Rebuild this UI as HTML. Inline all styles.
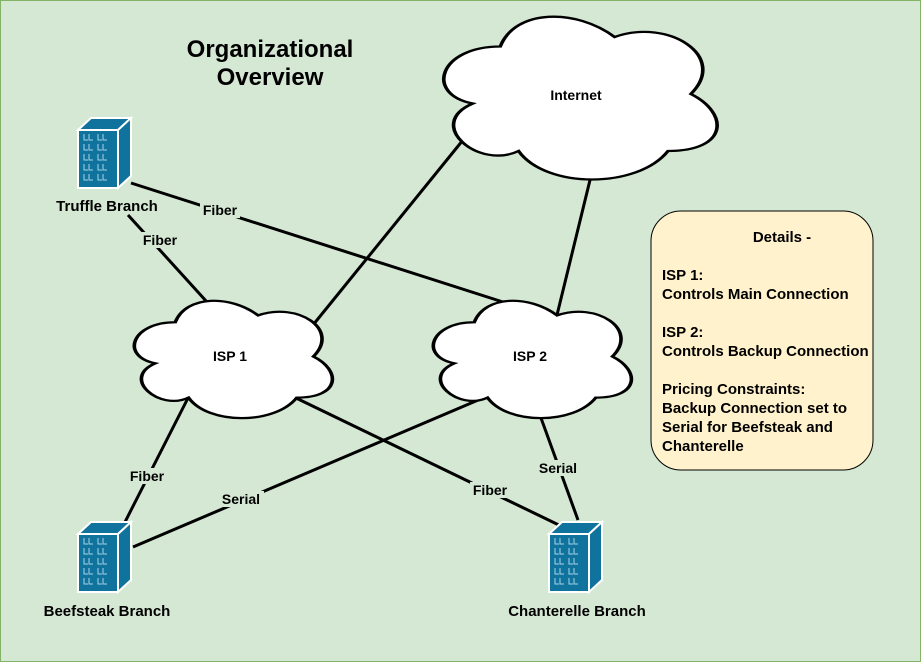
<!DOCTYPE html>
<html><head><style>
body{margin:0;width:921px;height:662px;overflow:hidden;background:#fff}
svg{display:block}
text{font-family:"Liberation Sans",Arial,sans-serif;font-weight:bold;fill:#000}
</style></head><body>
<svg width="921" height="662" viewBox="0 0 921 662">
<defs>
<path id="cl" d="M0.25 0.25C0.05 0.25 0 0.5 0.16 0.55C0 0.66 0.18 0.9 0.31 0.8C0.4 1 0.7 1 0.8 0.8C1 0.8 1 0.6 0.875 0.5C1 0.3 0.8 0.1 0.625 0.2C0.5 0.05 0.3 0.05 0.25 0.25Z"/>
<g id="bld">
<path d="M0 12 L13 0 L53 0 L40 12 Z" fill="#10739e" stroke="#fff" stroke-width="2"/>
<path d="M40 12 L53 0 L53 58 L40 70 Z" fill="#10739e" stroke="#fff" stroke-width="2"/>
<rect x="0" y="12" width="40" height="58" fill="#10739e" stroke="#fff" stroke-width="2"/>
<g stroke="#a9d1e8" stroke-width="1" fill="none">
<path d="M6 16v6h4M11 16v6h4M20 16v6h4M25 16v6h4 M6 26v6h4M11 26v6h4M20 26v6h4M25 26v6h4 M6 36v6h4M11 36v6h4M20 36v6h4M25 36v6h4 M6 46v6h4M11 46v6h4M20 46v6h4M25 46v6h4 M6 56v6h4M11 56v6h4M20 56v6h4M25 56v6h4"/>
</g>
</g>
</defs>
<rect x="0.5" y="0.5" width="920" height="661" fill="#d5e8d4" stroke="#82b366"/>
<g stroke="#000" stroke-width="3" fill="none">
<line x1="131" y1="183" x2="503" y2="302"/>
<line x1="128" y1="215" x2="207" y2="302"/>
<line x1="463" y1="140" x2="313" y2="325"/>
<line x1="590" y1="180" x2="557" y2="315"/>
<line x1="188" y1="398" x2="125" y2="522"/>
<line x1="490" y1="395" x2="133" y2="547"/>
<line x1="296" y1="398" x2="563" y2="527"/>
<line x1="541" y1="418" x2="578" y2="520"/>
</g>
<g fill="#fff" stroke="#000">
<use href="#cl" transform="translate(120,288) scale(221,137)" style="stroke-width:0.0165"/>
<use href="#cl" transform="translate(419,288) scale(221,137)" style="stroke-width:0.0165"/>
<use href="#cl" transform="translate(424,-1) scale(305,190)" style="stroke-width:0.012"/>
</g>
<use href="#bld" transform="translate(78,118)"/>
<use href="#bld" transform="translate(78,522)"/>
<use href="#bld" transform="translate(549,522)"/>
<g font-size="14" text-anchor="middle">
<rect x="200" y="202" width="40" height="16" fill="#d5e8d4"/>
<text x="220" y="215">Fiber</text>
<rect x="140" y="232" width="40" height="16" fill="#d5e8d4"/>
<text x="160" y="245">Fiber</text>
<rect x="127" y="468" width="40" height="16" fill="#d5e8d4"/>
<text x="147" y="481">Fiber</text>
<rect x="218" y="491" width="46" height="16" fill="#d5e8d4"/>
<text x="241" y="504">Serial</text>
<rect x="470" y="482" width="40" height="16" fill="#d5e8d4"/>
<text x="490" y="495">Fiber</text>
<rect x="535" y="460" width="46" height="16" fill="#d5e8d4"/>
<text x="558" y="473">Serial</text>
<text x="107" y="211" font-size="15">Truffle Branch</text>
<text x="107" y="616" font-size="15">Beefsteak Branch</text>
<text x="577" y="616" font-size="15">Chanterelle Branch</text>
<text x="230" y="361">ISP 1</text>
<text x="530" y="361">ISP 2</text>
<text x="576" y="100">Internet</text>
<text x="270" y="57" font-size="24">Organizational</text>
<text x="270" y="85" font-size="24">Overview</text>
</g>
<rect x="651" y="211" width="222" height="259" rx="30" fill="#fff2cc" stroke="#000" stroke-width="1"/>
<g font-size="15">
<text x="782" y="242" text-anchor="middle">Details -</text>
<text x="662" y="280">ISP 1:</text>
<text x="662" y="299">Controls Main Connection</text>
<text x="662" y="337">ISP 2:</text>
<text x="662" y="356">Controls Backup Connection</text>
<text x="662" y="394">Pricing Constraints:</text>
<text x="662" y="413">Backup Connection set to</text>
<text x="662" y="432">Serial for Beefsteak and</text>
<text x="662" y="451">Chanterelle</text>
</g>
</svg>
</body></html>
